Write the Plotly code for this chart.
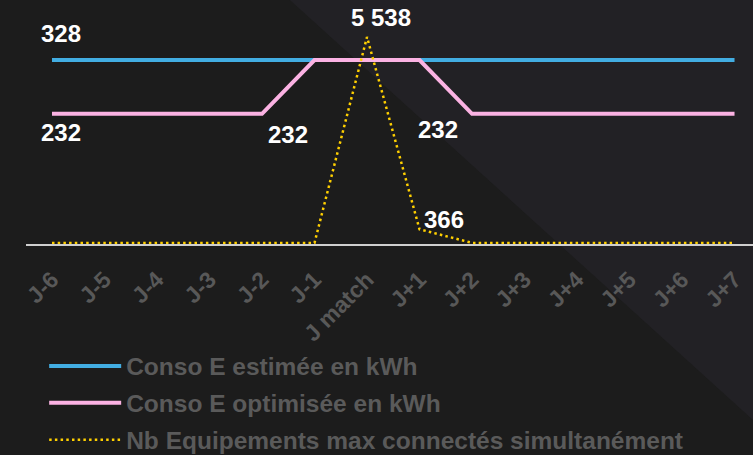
import plotly.graph_objects as go

categories = ["J-6", "J-5", "J-4", "J-3", "J-2", "J-1", "J match",
              "J+1", "J+2", "J+3", "J+4", "J+5", "J+6", "J+7"]
conso_estimee = [328] * 14
conso_optimisee = [232, 232, 232, 232, 232, 328, 328, 328, 232, 232, 232, 232, 232, 232]
nb_equipements = [0, 0, 0, 0, 0, 0, 5538, 366, 0, 0, 0, 0, 0, 0]

names = ["Conso E estimée en kWh", "Conso E optimisée en kWh",
         "Nb Equipements max connectés simultanément"]

# (series, category index, text, xshift, yshift)
labels = [
    ("est", 0, "328", 9, 27),
    ("opt", 0, "232", 9, -19),
    ("opt", 4, "232", 26, -21),
    ("opt", 8, "232", -34, -16),
    ("nb", 6, "5 538", 14, 19),
    ("nb", 7, "366", 24, 10),
]

FONT = "Liberation Sans, Arial, Helvetica, sans-serif"

fig = go.Figure()
fig.add_trace(go.Scatter(x=categories, y=conso_estimee, name=names[0], mode="lines",
                         line=dict(color="#42ade2", width=4), cliponaxis=False,
                         legendgroup="a"))
fig.add_trace(go.Scatter(x=categories, y=conso_optimisee, name=names[1], mode="lines",
                         line=dict(color="#fbb2e3", width=4), cliponaxis=False,
                         legendgroup="b"))
fig.add_trace(go.Scatter(x=categories, y=nb_equipements, name=names[2], mode="lines",
                         line=dict(color="#ffd000", width=2.5, dash="2.5px,3.2px"),
                         cliponaxis=False, yaxis="y2", legendgroup="c"))

series = {"est": (conso_estimee, "y"), "opt": (conso_optimisee, "y"), "nb": (nb_equipements, "y2")}
for key, idx, txt, xs, ys in labels:
    vals, yref = series[key]
    fig.add_annotation(x=categories[idx], y=vals[idx], xref="x", yref=yref, text=txt,
                       showarrow=False, xshift=xs, yshift=ys,
                       font=dict(family=FONT, size=24, color="white", weight="bold"))

# background diagonal band
fig.add_shape(type="path", xref="paper", yref="paper",
              path="M0.363,1.14 L1,1.14 L1,-0.822 Z",
              fillcolor="#222125", line=dict(width=0), layer="below")

fig.update_layout(
    width=753, height=455,
    margin=dict(l=26, r=0, t=30, b=211, autoexpand=False),
    paper_bgcolor="#1c1c1c", plot_bgcolor="rgba(0,0,0,0)",
    showlegend=True,
    legend=dict(x=0.025, y=-0.465,
                xanchor="left", yanchor="top", orientation="v",
                itemwidth=72, tracegroupgap=2, bgcolor="rgba(0,0,0,0)",
                font=dict(family=FONT, size=24.5, color="#5a5a5a", weight="bold")),
    xaxis=dict(range=[-0.495, 13.352], showgrid=False, zeroline=False,
               showline=True, linecolor="#cfcfcf", linewidth=2, layer="below traces",
               tickangle=-45, ticks="", ticklabelstandoff=11,
               tickfont=dict(family=FONT, size=23, color="#585858", weight="bold")),
    yaxis=dict(range=[0, 381.5], visible=False, showgrid=False, zeroline=False),
    yaxis2=dict(range=[-30, 5725], visible=False, showgrid=False, zeroline=False,
                overlaying="y", side="right"),
)

fig.write_html("out.html", config={"displayModeBar": False},
               post_script="document.body.style.margin='0';")
